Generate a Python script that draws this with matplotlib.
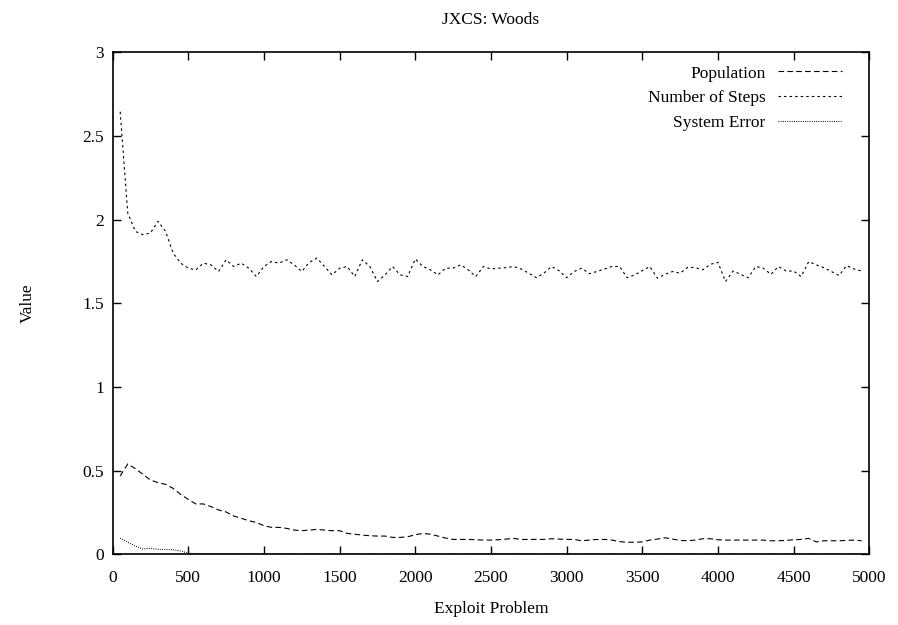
import matplotlib
matplotlib.use("Agg")
import matplotlib.pyplot as plt

plt.rcParams['font.family'] = ['Liberation Serif', 'DejaVu Serif']

x_steps = list(range(50, 5000, 50))

population = [0.468, 0.54, 0.512, 0.478, 0.444, 0.428, 0.418, 0.394, 0.358, 0.328,
              0.301, 0.301, 0.285, 0.265, 0.253, 0.229, 0.215, 0.201, 0.19, 0.171,
              0.161, 0.161, 0.155, 0.145, 0.141, 0.145, 0.149, 0.145, 0.141, 0.141,
              0.125, 0.12, 0.115, 0.111, 0.109, 0.109, 0.101, 0.101, 0.105, 0.117,
              0.125, 0.12, 0.109, 0.097, 0.089, 0.089, 0.089, 0.087, 0.085, 0.085,
              0.087, 0.091, 0.095, 0.089, 0.089, 0.089, 0.089, 0.093, 0.091, 0.089,
              0.089, 0.081, 0.085, 0.089, 0.089, 0.085, 0.076, 0.072, 0.072, 0.074,
              0.085, 0.091, 0.099, 0.091, 0.083, 0.081, 0.085, 0.093, 0.093, 0.087,
              0.085, 0.085, 0.085, 0.085, 0.085, 0.085, 0.081, 0.081, 0.083, 0.087,
              0.089, 0.095, 0.074, 0.081, 0.081, 0.081, 0.083, 0.085, 0.081]

steps = [2.645, 2.04, 1.93, 1.91, 1.92, 1.99, 1.93, 1.80, 1.74, 1.71,
         1.70, 1.74, 1.73, 1.69, 1.76, 1.72, 1.74, 1.71, 1.66, 1.72,
         1.75, 1.74, 1.76, 1.73, 1.69, 1.745, 1.77, 1.72, 1.67, 1.71,
         1.72, 1.66, 1.76, 1.72, 1.63, 1.67, 1.72, 1.67, 1.66, 1.765,
         1.72, 1.70, 1.67, 1.71, 1.71, 1.73, 1.70, 1.66, 1.72, 1.705,
         1.71, 1.713, 1.72, 1.705, 1.68, 1.653, 1.68, 1.72, 1.695, 1.653,
         1.69, 1.71, 1.677, 1.69, 1.705, 1.72, 1.72, 1.653, 1.67, 1.695,
         1.72, 1.65, 1.673, 1.69, 1.68, 1.715, 1.713, 1.70, 1.733, 1.745,
         1.63, 1.693, 1.673, 1.653, 1.72, 1.71, 1.673, 1.72, 1.693, 1.693,
         1.66, 1.749, 1.73, 1.713, 1.69, 1.666, 1.725, 1.705, 1.693]

system_error = [0.096, 0.072, 0.05, 0.032, 0.036, 0.03, 0.028, 0.028, 0.02, 0.006,
                0.004, 0.003, 0.003, 0.004, 0.003, 0.003, 0.002, 0.003, 0.003, 0.002,
                0.002, 0.003, 0.002, 0.002, 0.002, 0.003, 0.002, 0.002, 0.002, 0.002,
                0.002, 0.002, 0.002, 0.002, 0.002, 0.002, 0.002, 0.003, 0.004, 0.003,
                0.002, 0.002, 0.002, 0.002, 0.002, 0.002, 0.002, 0.002, 0.003, 0.004,
                0.004, 0.003, 0.004, 0.003, 0.002, 0.002, 0.002, 0.002, 0.002, 0.002,
                0.002, 0.002, 0.002, 0.002, 0.002, 0.002, 0.002, 0.002, 0.002, 0.002,
                0.002, 0.002, 0.003, 0.003, 0.002, 0.002, 0.002, 0.002, 0.003, 0.002,
                0.002, 0.002, 0.002, 0.002, 0.002, 0.002, 0.002, 0.002, 0.002, 0.002,
                0.002, 0.002, 0.002, 0.002, 0.002, 0.002, 0.002, 0.002, 0.002]

x_ticks = [0, 500, 1000, 1500, 2000, 2500, 3000, 3500, 4000, 4500, 5000]
y_ticks = [0, 0.5, 1, 1.5, 2, 2.5, 3]
y_labels = ['0', '0.5', '1', '1.5', '2', '2.5', '3']

fig = plt.figure(figsize=(8.98, 6.25), dpi=100)
ax = fig.add_axes([0.1254, 0.1131, 0.968 - 0.1254, 0.9163 - 0.1131])

lw = 0.8
ax.plot(x_steps, population, color='black', lw=lw, dashes=(5, 3), label='Population')
ax.plot(x_steps, steps, color='black', lw=lw, dashes=(2.2, 2.8), label='Number of Steps')
ax.plot(x_steps, system_error, color='black', lw=lw, dashes=(0.8, 1.2), label='System Error')

ax.set_xlim(0, 5000)
ax.set_ylim(0, 3)
ax.set_xticks(x_ticks)
ax.set_xticklabels([str(t) for t in x_ticks])
ax.set_yticks(y_ticks)
ax.set_yticklabels(y_labels)
ax.tick_params(direction='in', length=6, width=1, top=True, right=True,
               labelsize=12.5, colors='black')
ax.tick_params(axis='x', pad=11)
ax.tick_params(axis='y', pad=6)
for s in ax.spines.values():
    s.set_linewidth(1.2)

ax.set_title('JXCS: Woods', fontsize=12.5, pad=20.5)
ax.set_xlabel('Exploit Problem', fontsize=12.5, labelpad=11)
ax.set_ylabel('Value', fontsize=12.5, labelpad=34)

leg = ax.legend(loc='upper right', frameon=False, markerfirst=False, fontsize=12.5,
                handlelength=3.7, handletextpad=0.7, labelspacing=0.5,
                borderaxespad=0, borderpad=0, bbox_to_anchor=(0.964, 0.974))
for t in leg.get_texts():
    t.set_ha('right')

fig.savefig('out.png', dpi=100)
